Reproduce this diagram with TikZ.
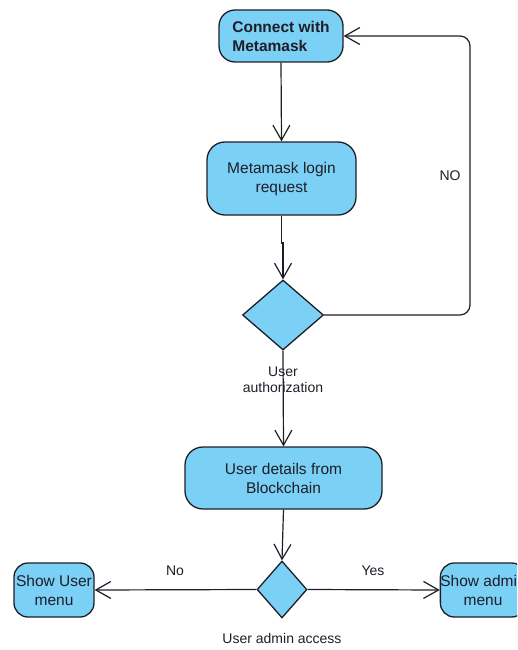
\documentclass[tikz,border=0pt]{standalone}
\usepackage{fontspec}
\setmainfont{Liberation Sans}
\usetikzlibrary{arrows.meta,shapes.geometric}
\definecolor{boxfill}{RGB}{123,208,245}
\definecolor{ink}{RGB}{30,30,40}
\begin{document}
\begin{tikzpicture}[x=1pt,y=-1pt,
  box/.style={draw=ink,fill=boxfill,line width=1.3pt,rounded corners=16pt,align=center,
    inner sep=0pt,font=\fontsize{15.5}{19}\selectfont,text=ink},
  dec/.style={draw=ink,fill=boxfill,line width=1.3pt,shape=diamond,inner sep=0pt},
  lbl/.style={font=\fontsize{14}{16}\selectfont,text=ink,align=center,inner sep=0pt},
  flow/.style={draw=ink,line width=1.2pt,-{Straight Barb[length=15pt,width=17pt]}}]
\useasboundingbox (0,0) rectangle (517,650);
\clip (0,0) rectangle (517,650);
\node[box,minimum width=124pt,minimum height=52pt,font=\fontsize{15.5}{19}\selectfont\bfseries,align=left] (c1) at (281,36) {Connect with\\Metamask};
\node[box,minimum width=149pt,minimum height=73pt,rounded corners=18pt] (c2) at (281.5,178.5) {Metamask login\\request};
\node[dec,minimum width=81pt,minimum height=70pt] (d1) at (283,315) {};
\node[lbl] (l1) at (283,380) {User\\authorization};
\node[box,minimum width=197pt,minimum height=62pt,rounded corners=18pt] (c3) at (283.5,478) {User details from\\Blockchain};
\node[dec,minimum width=50pt,minimum height=57pt] (d2) at (282,589.5) {};
\node[lbl] (l2) at (282,638) {User admin access};
\node[box,minimum width=80pt,minimum height=54pt,rounded corners=14pt] (L) at (54,590) {Show User\\menu};
\node[box,minimum width=80pt,minimum height=54pt,rounded corners=14pt] (R) at (483,590) {Show admin\\menu};
\node[lbl] (tno) at (450,176) {NO};
\node[lbl] (tn) at (175,571) {No};
\node[lbl] (ty) at (373,571) {Yes};
\coordinate (j1) at (283,243);
\coordinate (lp) at (470,180);
\draw[flow] (c1.south) -- (c2.north);
\draw[flow] (c2.south) |- (j1) -- (d1.north);
\draw[flow] (d1.south) -- (c3.north);
\draw[flow] (c3.south) -- (d2.north);
\draw[flow] (d2.west) -- (L.east);
\draw[flow] (d2.east) -- (R.west);
\draw[flow,rounded corners=10pt] (d1.east) -| (lp) |- (c1.east);
\end{tikzpicture}
\end{document}
